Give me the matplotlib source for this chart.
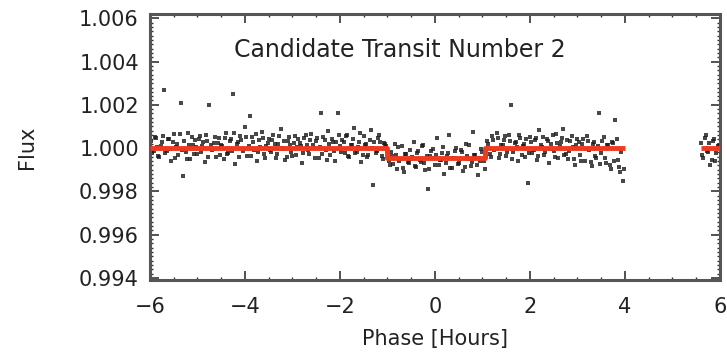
import numpy as np
import matplotlib
matplotlib.use("Agg")
import matplotlib.pyplot as plt
from matplotlib.ticker import MultipleLocator

# phase (hours) of each observation, first set: -6.00 .. 3.95
phase_a = [
    -6.00, -5.95, -5.90, -5.85, -5.80, -5.75, -5.70, -5.65, -5.60, -5.55,
    -5.50, -5.45, -5.40, -5.35, -5.30, -5.25, -5.20, -5.15, -5.10, -5.05,
    -5.00, -4.95, -4.90, -4.85, -4.80, -4.75, -4.70, -4.65, -4.60, -4.55,
    -4.50, -4.45, -4.40, -4.35, -4.30, -4.25, -4.20, -4.15, -4.10, -4.05,
    -4.00, -3.95, -3.90, -3.85, -3.80, -3.75, -3.70, -3.65, -3.60, -3.55,
    -3.50, -3.45, -3.40, -3.35, -3.30, -3.25, -3.20, -3.15, -3.10, -3.05,
    -3.00, -2.95, -2.90, -2.85, -2.80, -2.75, -2.70, -2.65, -2.60, -2.55,
    -2.50, -2.45, -2.40, -2.35, -2.30, -2.25, -2.20, -2.15, -2.10, -2.05,
    -2.00, -1.95, -1.90, -1.85, -1.80, -1.75, -1.70, -1.65, -1.60, -1.55,
    -1.50, -1.45, -1.40, -1.35, -1.30, -1.25, -1.20, -1.15, -1.10, -1.05,
    -1.00, -0.95, -0.90, -0.85, -0.80, -0.75, -0.70, -0.65, -0.60, -0.55,
    -0.50, -0.45, -0.40, -0.35, -0.30, -0.25, -0.20, -0.15, -0.10, -0.05,
    0.00, 0.05, 0.10, 0.15, 0.20, 0.25, 0.30, 0.35, 0.40, 0.45,
    0.50, 0.55, 0.60, 0.65, 0.70, 0.75, 0.80, 0.85, 0.90, 0.95,
    1.00, 1.05, 1.10, 1.15, 1.20, 1.25, 1.30, 1.35, 1.40, 1.45,
    1.50, 1.55, 1.60, 1.65, 1.70, 1.75, 1.80, 1.85, 1.90, 1.95,
    2.00, 2.05, 2.10, 2.15, 2.20, 2.25, 2.30, 2.35, 2.40, 2.45,
    2.50, 2.55, 2.60, 2.65, 2.70, 2.75, 2.80, 2.85, 2.90, 2.95,
    3.00, 3.05, 3.10, 3.15, 3.20, 3.25, 3.30, 3.35, 3.40, 3.45,
    3.50, 3.55, 3.60, 3.65, 3.70, 3.75, 3.80, 3.85, 3.90, 3.95,
]
# flux offsets from 1.0, in units of 1e-5
dflux_a = [
    18, -25, 52, 7, -41, 30, 270, -12, 44, -58,
    63, 5, -33, 210, -130, -18, 71, -49, 12, 38,
    -27, 55, 9, -66, 34, 200, -8, 22, -39, 47,
    14, -52, 68, -21, 40, 250, -74, 29, 58, -15,
    96, -36, 150, 49, -7, -60, 36, 73, -28, 11,
    42, -19, 61, -45, 20, 88, -3, -55, 31, 16,
    -38, 57, 6, 24, -70, 45, 13, -26, 66, 2,
    35, -47, 160, 52, -11, 79, -32, 27, -59, 160,
    8, 39, -21, 62, -43, 15, 93, -16, 30, -64,
    54, 21, -34, 85, -170, -24, 46, 28, -52, 17,
    -12, -80, -35, 21, -96, -58, 8, -110, -27, -71,
    -49, 30, -88, -15, -63, 12, -102, -190, -38, -5,
    -77, 45, -54, -21, -118, -36, 60, -92, -44, 2,
    -67, -9, -105, 18, -50, -83, 75, -30, -124, -61,
    -20, -95, 33, -27, 56, -8, 71, -46, 14, 39,
    -35, 62, 200, -18, 27, -61, 48, 9, -40, -160,
    51, -22, 37, -57, 84, 6, -33, 43, -69, 19,
    -14, 66, -45, 28, 90, -26, -52, 35, 4, -78,
    41, -31, 17, -62, 58, -9, -85, 30, -47, 160,
    -24, 49, -70, 12, -98, 25, 130, -56, -110, -150,
]
# second set of observations, interleaved: -5.975 .. 3.975
phase_b = [
    -5.975, -5.925, -5.875, -5.825, -5.775, -5.725, -5.675, -5.625, -5.575, -5.525,
    -5.475, -5.425, -5.375, -5.325, -5.275, -5.225, -5.175, -5.125, -5.075, -5.025,
    -4.975, -4.925, -4.875, -4.825, -4.775, -4.725, -4.675, -4.625, -4.575, -4.525,
    -4.475, -4.425, -4.375, -4.325, -4.275, -4.225, -4.175, -4.125, -4.075, -4.025,
    -3.975, -3.925, -3.875, -3.825, -3.775, -3.725, -3.675, -3.625, -3.575, -3.525,
    -3.475, -3.425, -3.375, -3.325, -3.275, -3.225, -3.175, -3.125, -3.075, -3.025,
    -2.975, -2.925, -2.875, -2.825, -2.775, -2.725, -2.675, -2.625, -2.575, -2.525,
    -2.475, -2.425, -2.375, -2.325, -2.275, -2.225, -2.175, -2.125, -2.075, -2.025,
    -1.975, -1.925, -1.875, -1.825, -1.775, -1.725, -1.675, -1.625, -1.575, -1.525,
    -1.475, -1.425, -1.375, -1.325, -1.275, -1.225, -1.175, -1.125, -1.075, -1.025,
    -0.975, -0.925, -0.875, -0.825, -0.775, -0.725, -0.675, -0.625, -0.575, -0.525,
    -0.475, -0.425, -0.375, -0.325, -0.275, -0.225, -0.175, -0.125, -0.075, -0.025,
    0.025, 0.075, 0.125, 0.175, 0.225, 0.275, 0.325, 0.375, 0.425, 0.475,
    0.525, 0.575, 0.625, 0.675, 0.725, 0.775, 0.825, 0.875, 0.925, 0.975,
    1.025, 1.075, 1.125, 1.175, 1.225, 1.275, 1.325, 1.375, 1.425, 1.475,
    1.525, 1.575, 1.625, 1.675, 1.725, 1.775, 1.825, 1.875, 1.925, 1.975,
    2.025, 2.075, 2.125, 2.175, 2.225, 2.275, 2.325, 2.375, 2.425, 2.475,
    2.525, 2.575, 2.625, 2.675, 2.725, 2.775, 2.825, 2.875, 2.925, 2.975,
    3.025, 3.075, 3.125, 3.175, 3.225, 3.275, 3.325, 3.375, 3.425, 3.475,
    3.525, 3.575, 3.625, 3.675, 3.725, 3.775, 3.825, 3.875, 3.925, 3.975,
]
dflux_b = [
    31, -14, 47, -36, 9, 58, -22, 40, -5, 26,
    -44, 19, 66, -9, 35, -51, 12, 49, -27, 3,
    42, -18, 27, 61, -40, 15, -3, 53, 24, -31,
    8, 45, -26, 33, -12, 70, 20, -43, 37, -6,
    52, 11, -35, 28, 64, -19, 4, 46, -48, 23,
    -10, 39, 17, -29, 57, 1, 34, -41, 50, -16,
    25, -33, 43, 10, -22, 59, -8, 38, 14, -46,
    48, 6, -27, 36, -55, 21, 44, -13, 30, 62,
    -20, 27, 55, -37, 13, 41, -24, 5, 68, -30,
    16, -42, 37, 2, 29, -15, 60, -36, 22, 9,
    -60, -18, -75, -33, 4, -52, -90, -29, -66, -8,
    -41, -85, -22, -57, 10, -70, -36, -98, -14, -47,
    -31, -80, -55, 6, -68, -25, -93, -44, -12, -74,
    -50, -20, -87, -38, 14, -63, -30, -79, -46, -3,
    -58, -35, 20, -41, 38, -5, 47, -28, 12, 55,
    -17, 33, -49, 24, 7, 59, -32, 18, 43, -24,
    29, -11, 46, -38, 15, 52, -20, 34, -3, 61,
    -42, 22, 9, 48, -30, 37, -14, 56, -51, 13,
    26, -58, 40, -4, 31, -66, 19, -37, 8, -72,
    35, -45, 14, -80, 27, -60, 42, -88, -20, -95,
]
# observations near the right edge
phase_right = [5.600, 5.625, 5.650, 5.675, 5.700, 5.725, 5.750, 5.775,
               5.800, 5.825, 5.850, 5.875, 5.900, 5.925, 5.950, 5.975]
dflux_right = [22, -30, -45, 48, 60, -12, -18, 25,
               -80, -55, 35, 40, -60, -25, 10, 15]

# box transit model: segment edges (hours) and flux level
model_edges = [-6.0, -1.0, 1.05, 4.0]
model_levels = [1.0, 0.99956, 1.0]
model_right = [5.6, 6.0]
model_right_level = 1.0

phase = phase_a + phase_b + phase_right
flux = 1.0 + np.array(dflux_a + dflux_b + dflux_right) * 1e-5

fig = plt.figure(figsize=(7.27, 3.58), dpi=100)
ax = fig.add_axes([0.2063, 0.2179, 0.784, 0.743])

ax.plot(phase, flux, 's', color='#1a1a1a', ms=2.6, mew=0, alpha=0.8)

red = '#ee3a1e'
mx, my = [], []
for i, lev in enumerate(model_levels):
    mx += [model_edges[i], model_edges[i + 1]]
    my += [lev, lev]
ax.plot(mx, my, color=red, lw=3.5, zorder=5, solid_capstyle='butt')
ax.plot(model_right, [model_right_level] * 2, color=red, lw=3.5, zorder=5,
        solid_capstyle='butt')

ax.set_xlim(-6, 6)
ax.set_ylim(0.9939, 1.0062)
ax.set_xticks([-6, -4, -2, 0, 2, 4, 6])
ax.set_yticks([0.994, 0.996, 0.998, 1.000, 1.002, 1.004, 1.006])
ax.set_yticklabels(['0.994', '0.996', '0.998', '1.000', '1.002', '1.004', '1.006'])
ax.xaxis.set_minor_locator(MultipleLocator(0.5))
ax.yaxis.set_minor_locator(MultipleLocator(0.0002))
ax.tick_params(which='both', direction='in', top=True, right=True,
               color='#333333', labelsize=15, labelcolor='#222222')
ax.tick_params(which='major', length=6.5, width=1.2)
ax.tick_params(which='minor', length=2.5, width=1.0)
ax.tick_params(axis='x', pad=12)
ax.tick_params(axis='y', pad=8)
for sp in ax.spines.values():
    sp.set_linewidth(2.2)
    sp.set_color('#555555')

ax.text(-0.75, 1.00452, 'Candidate Transit Number 2', ha='center', va='center',
        fontsize=17, color='#222222')
ax.set_xlabel('Phase [Hours]', fontsize=15, color='#222222', labelpad=9)
ax.set_ylabel('Flux', fontsize=15, color='#222222', labelpad=30)

fig.savefig('out.png', dpi=100)
